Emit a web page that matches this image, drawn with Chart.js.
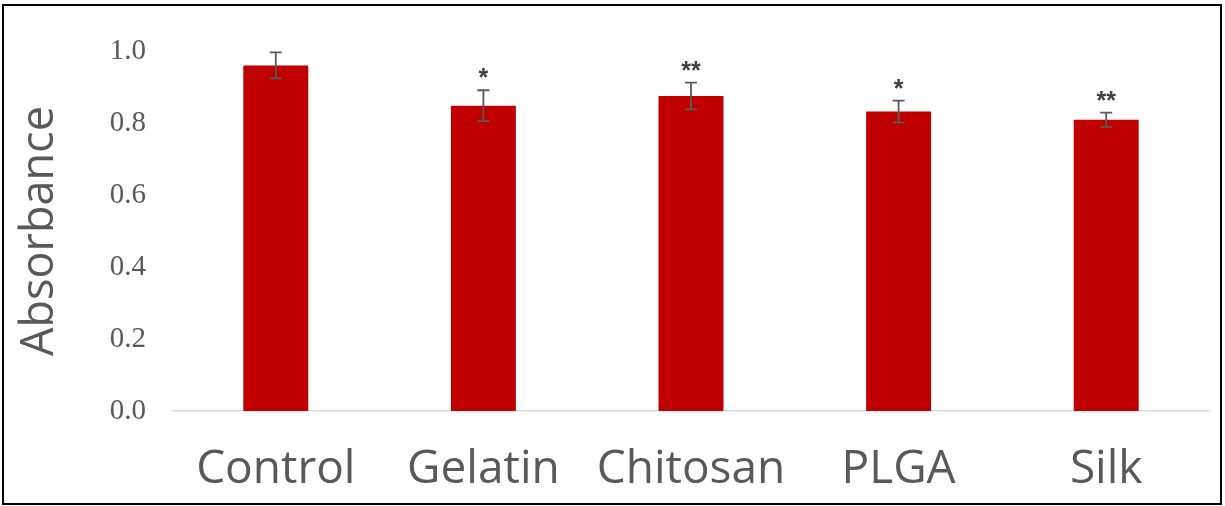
<!DOCTYPE html>
<html>
<head>
<meta charset="utf-8">
<script src="https://cdn.jsdelivr.net/npm/chart.js@4"></script>
<style>
  html, body { margin: 0; padding: 0; background: #fff; }
  #wrap { position: relative; width: 1225px; height: 506px; }
  canvas { display: block; }
</style>
</head>
<body>
<div id="wrap"><canvas id="c" width="1225" height="506"></canvas></div>
<script>
// Absorbance per scaffold material, mean ± SD with significance marks
const categories = ['Control', 'Gelatin', 'Chitosan', 'PLGA', 'Silk'];
const absorbance = [0.96, 0.848, 0.875, 0.832, 0.809];
const sd = [0.036, 0.043, 0.037, 0.030, 0.020];
const significance = ['', '*', '**', '*', '**'];
const yTicks = [0.0, 0.2, 0.4, 0.6, 0.8, 1.0];

const grey = '#595959';

// Error bars and significance asterisks drawn from the dataset values
const errorBars = {
  id: 'errorBars',
  afterDatasetsDraw(chart) {
    const { ctx, scales: { y } } = chart;
    const meta = chart.getDatasetMeta(0);
    ctx.save();
    meta.data.forEach((bar, i) => {
      const x = bar.x;
      const yHi = y.getPixelForValue(absorbance[i] + sd[i]);
      const yLo = y.getPixelForValue(absorbance[i] - sd[i]);
      ctx.strokeStyle = grey;
      ctx.lineWidth = 1.8;
      ctx.beginPath();
      ctx.moveTo(x, yHi); ctx.lineTo(x, yLo);
      ctx.moveTo(x - 6, yHi); ctx.lineTo(x + 6, yHi);
      ctx.moveTo(x - 6, yLo); ctx.lineTo(x + 6, yLo);
      ctx.stroke();
      if (significance[i]) {
        ctx.fillStyle = '#404040';
        ctx.font = 'bold 25px "Liberation Sans"';
        ctx.textAlign = 'center';
        ctx.textBaseline = 'alphabetic';
        ctx.fillText(significance[i], x, yHi - 4);
      }
    });
    ctx.restore();
  }
};

// Outer black frame
const frame = {
  id: 'frame',
  afterDraw(chart) {
    const { ctx } = chart;
    ctx.save();
    ctx.strokeStyle = '#000';
    ctx.lineWidth = 2;
    ctx.strokeRect(3, 5, 1218, 499);
    ctx.restore();
  }
};

new Chart(document.getElementById('c'), {
  type: 'bar',
  data: {
    labels: categories,
    datasets: [{
      data: absorbance,
      backgroundColor: '#C00000',
      borderWidth: 0,
      categoryPercentage: 1.0,
      barPercentage: 0.313
    }]
  },
  options: {
    responsive: false,
    animation: false,
    layout: { padding: { top: 51, right: 15, left: 0, bottom: 0 } },
    plugins: { legend: { display: false }, tooltip: { enabled: false } },
    scales: {
      x: {
        grid: { display: false, drawTicks: false },
        border: { display: true, color: '#d9d9d9', width: 1.5 },
        ticks: {
          color: grey,
          padding: 31,
          font: { family: '"Open Sans"', size: 46 }
        },
        afterFit(scale) { scale.height = 95; }
      },
      y: {
        min: 0,
        max: 1.0,
        afterBuildTicks(scale) { scale.ticks = yTicks.map(v => ({ value: v })); },
        grid: { display: false, drawTicks: false },
        border: { display: false },
        ticks: {
          color: grey,
          padding: 26,
          font: { family: '"Liberation Serif"', size: 29 },
          callback: v => Number(v).toFixed(1)
        },
        title: {
          display: true,
          text: 'Absorbance',
          color: grey,
          padding: { top: 13, bottom: 0 },
          font: { family: '"Open Sans"', size: 45 }
        },
        afterFit(scale) { scale.width = 172; }
      }
    }
  },
  plugins: [errorBars, frame]
});
</script>
</body>
</html>
